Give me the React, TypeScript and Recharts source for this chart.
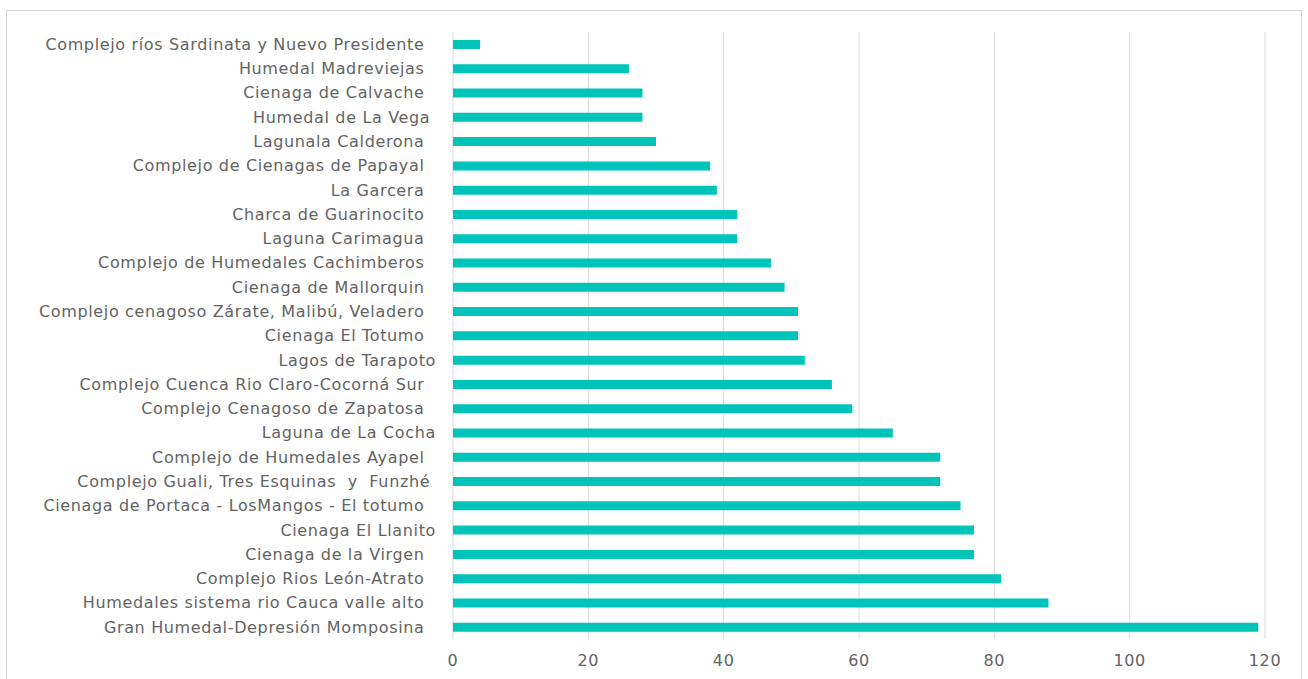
import React from 'react';
import { BarChart, Bar, XAxis, YAxis, CartesianGrid } from 'recharts';

// humedales, top to bottom as in the chart (trailing spaces kept like the source labels)
const humedales = [
  'Complejo ríos Sardinata y Nuevo Presidente  ',
  'Humedal Madreviejas  ',
  'Cienaga de Calvache  ',
  'Humedal de La Vega ',
  'Lagunala Calderona  ',
  'Complejo de Cienagas de Papayal  ',
  'La Garcera  ',
  'Charca de Guarinocito  ',
  'Laguna Carimagua  ',
  'Complejo de Humedales Cachimberos  ',
  'Cienaga de Mallorquin  ',
  'Complejo cenagoso Zárate, Malibú, Veladero  ',
  'Cienaga El Totumo  ',
  'Lagos de Tarapoto',
  'Complejo Cuenca Rio Claro-Cocorná Sur  ',
  'Complejo Cenagoso de Zapatosa  ',
  'Laguna de La Cocha',
  'Complejo de Humedales Ayapel  ',
  'Complejo Guali, Tres Esquinas  y  Funzhé ',
  'Cienaga de Portaca - LosMangos - El totumo  ',
  'Cienaga El Llanito',
  'Cienaga de la Virgen  ',
  'Complejo Rios León-Atrato  ',
  'Humedales sistema rio Cauca valle alto  ',
  'Gran Humedal-Depresión Momposina  ',
];

const valores = [4, 26, 28, 28, 30, 38, 39, 42, 42, 47, 49, 51, 51, 52, 56, 59, 65, 72, 72, 75, 77, 77, 81, 88, 119];

const ticksX = [0, 20, 40, 60, 80, 100, 120];

const data = humedales.map((nombre, i) => ({ nombre, valor: valores[i] }));

const FONT = '"DejaVu Sans", sans-serif';
const GRIS = '#636363';

function EtiquetaY(props: any) {
  const { x, y, payload } = props;
  return (
    <text
      x={x}
      y={y}
      dy="0.36em"
      textAnchor="end"
      fill={GRIS}
      fontSize={16}
      fontFamily={FONT}
      letterSpacing={0.65}
      style={{ whiteSpace: 'pre' }}
    >
      {payload.value}
    </text>
  );
}

export default function App() {
  return (
    <div style={{ position: 'absolute', left: 0, top: 0, width: 1308, height: 679, background: '#fff', overflow: 'hidden' }}>
      <div
        style={{
          position: 'absolute',
          left: 6,
          top: 10,
          width: 1294,
          height: 720,
          border: '1px solid #d9d9d9',
        }}
      />
      <div style={{ position: 'absolute', left: 0, top: 0 }}>
        <BarChart
          width={1308}
          height={679}
          data={data}
          layout="vertical"
          margin={{ top: 32, right: 43, bottom: 10, left: 0 }}
          barSize={9}
        >
          <CartesianGrid horizontal={false} stroke="#d9d9d9" strokeWidth={1} />
          <XAxis
            type="number"
            domain={[0, 120]}
            ticks={ticksX}
            axisLine={false}
            tickLine={false}
            tickMargin={10}
            height={30}
            tick={{ fill: GRIS, fontSize: 16, fontFamily: FONT, letterSpacing: 0.65 }}
          />
          <YAxis
            type="category"
            dataKey="nombre"
            width={453}
            axisLine={false}
            tickLine={false}
            tickMargin={11}
            interval={0}
            tick={<EtiquetaY />}
          />
          <Bar dataKey="valor" fill="#00c4ba" isAnimationActive={false} />
        </BarChart>
      </div>
    </div>
  );
}
